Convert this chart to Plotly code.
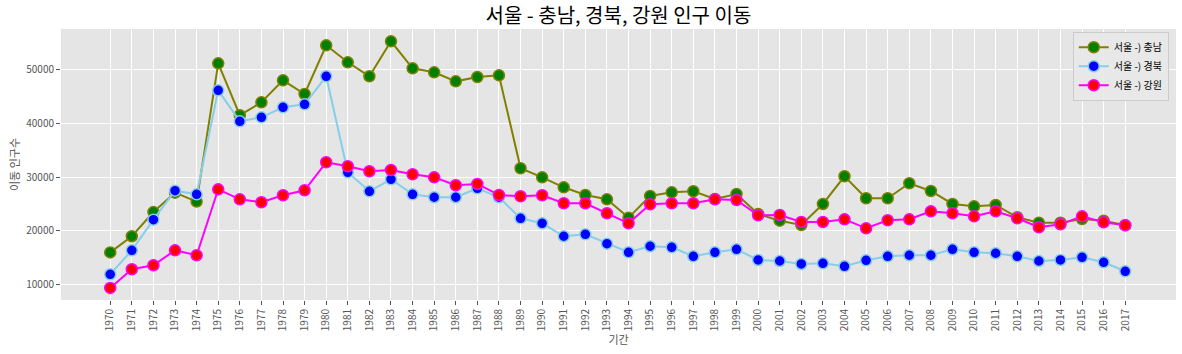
import plotly.graph_objects as go

years = [str(y) for y in range(1970, 2018)]

chungnam = [16000, 19000, 23500, 27100, 25450, 51150, 41500, 43900, 47990, 45450,
            54500, 51340, 48740, 55240, 50220, 49480, 47800, 48600, 48920, 31640,
            29960, 28100, 26670, 25870, 22450, 26490, 27170, 27360, 25930, 26860,
            23140, 21900, 21100, 25000, 30150, 26060, 26060, 28850, 27420, 25000,
            24570, 24810, 22530, 21530, 21530, 22210, 21900, 21040]

gyeongbuk = [11930, 16390, 22080, 27470, 26800, 46130, 40370, 41110, 42970, 43530,
             48740, 30890, 27360, 29590, 26800, 26250, 26250, 27920, 26250, 22340,
             21410, 19000, 19370, 17620, 16020, 17140, 16950, 15280, 16020, 16580,
             14590, 14400, 13850, 13970, 13410, 14530, 15280, 15470, 15470, 16580,
             16020, 15840, 15280, 14400, 14590, 15090, 14160, 12490]

gangwon = [9390, 12860, 13610, 16390, 15470, 27730, 25870, 25320, 26620, 27550,
           32750, 32010, 31080, 31320, 30520, 29960, 28480, 28720, 26670, 26430,
           26620, 25130, 25130, 23270, 21410, 24940, 25130, 25130, 25870, 25740,
           22900, 22960, 21650, 21650, 22150, 20480, 21970, 22150, 23640, 23270,
           22710, 23640, 22340, 20670, 21220, 22710, 21600, 21040]

y_ticks = [10000, 20000, 30000, 40000, 50000]

series = [
    ("서울 -) 충남", chungnam, "olive", "green", "olive"),
    ("서울 -) 경북", gyeongbuk, "skyblue", "blue", "skyblue"),
    ("서울 -) 강원", gangwon, "magenta", "red", "magenta"),
]

FONT = "Noto Sans CJK KR, Noto Sans, DejaVu Sans, sans-serif"

fig = go.Figure()
for name, vals, lc, mc, ec in series:
    fig.add_trace(go.Scatter(
        x=years, y=vals, name=name, mode="lines+markers",
        line=dict(color=lc, width=2),
        marker=dict(color=mc, size=11, line=dict(color=ec, width=1.5)),
    ))

fig.update_layout(
    width=1182, height=354,
    margin=dict(l=61, r=6, t=29, b=54),
    paper_bgcolor="white",
    plot_bgcolor="#E5E5E5",
    font=dict(family=FONT, color="#555555", size=10),
    title=dict(text="서울 - 충남, 경북, 강원 인구 이동", x=0.5232, xanchor="center",
               y=0.955, yanchor="middle",
               font=dict(family=FONT, size=20, color="black")),
    showlegend=True,
    legend=dict(x=0.9935, y=0.99, xanchor="right", yanchor="top",
                bgcolor="rgba(232,232,232,0.9)", bordercolor="#cccccc", borderwidth=1,
                font=dict(family=FONT, size=10, color="black"),
                tracegroupgap=0, itemwidth=30),
)

fig.update_xaxes(
    type="category", range=[-2.28, 49.35],
    showgrid=True, gridcolor="white", gridwidth=1,
    ticks="outside", ticklen=4, tickcolor="#555555", tickangle=-90,
    tickfont=dict(size=10, color="#555555"),
    title=dict(text="기간", font=dict(size=11, color="#555555"), standoff=2),
    zeroline=False, showline=False,
)
fig.update_yaxes(
    range=[7150, 57530],
    tickvals=y_ticks, ticktext=[str(v) for v in y_ticks],
    showgrid=True, gridcolor="white", gridwidth=1,
    ticks="outside", ticklen=4, tickcolor="#555555",
    tickfont=dict(size=10, color="#555555"),
    title=dict(text="이동 인구수", font=dict(size=11, color="#555555"), standoff=4),
    zeroline=False, showline=False,
)

fig.write_html("out.html")
